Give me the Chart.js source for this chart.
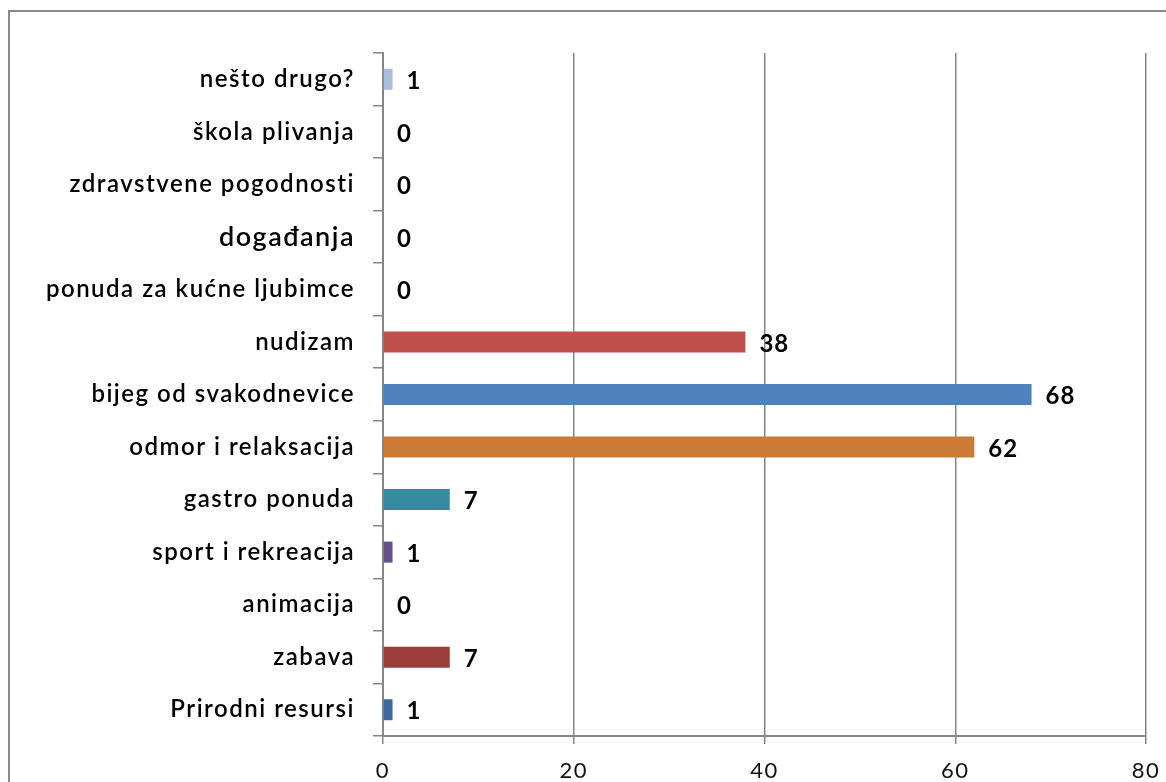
<!DOCTYPE html>
<html>
<head>
<meta charset="utf-8">
<script src="https://cdn.jsdelivr.net/npm/chart.js@4/dist/chart.umd.min.js"></script>
<style>
  html, body { margin: 0; padding: 0; background: #fff; }
  #wrap { position: relative; width: 1166px; height: 782px; }
</style>
</head>
<body>
<div id="wrap"><canvas id="c" width="1166" height="782"></canvas></div>
<script>
const categories = [
  "nešto drugo?",
  "škola plivanja",
  "zdravstvene pogodnosti",
  "događanja",
  "ponuda za kućne ljubimce",
  "nudizam",
  "bijeg od svakodnevice",
  "odmor i relaksacija",
  "gastro ponuda",
  "sport i rekreacija",
  "animacija",
  "zabava",
  "Prirodni resursi"
];
const values = [1, 0, 0, 0, 0, 38, 68, 62, 7, 1, 0, 7, 1];
const barColors = [
  "#aabcdc", "#4f81bd", "#4f81bd", "#4f81bd", "#4f81bd",
  "#c0504d", "#4f81bd", "#cc7a37", "#378b9f", "#66508a",
  "#4f81bd", "#9b3d3a", "#3c6aa0"
];
const xTicks = [0, 20, 40, 60, 80];

const frame = {
  id: 'frame',
  beforeDraw(chart) {
    const ctx = chart.ctx;
    ctx.save();
    ctx.fillStyle = '#fff';
    ctx.fillRect(0, 0, chart.width, chart.height);
    ctx.strokeStyle = '#8a8a8a';
    ctx.lineWidth = 2;
    ctx.strokeRect(9, 11, chart.width + 20, chart.height + 20);
    ctx.restore();
    ctx.letterSpacing = '1.5px';
  },
  afterDraw(chart) {
    chart.ctx.letterSpacing = '0px';
  }
};

const valueLabels = {
  id: 'valueLabels',
  afterDatasetsDraw(chart) {
    const ctx = chart.ctx;
    const meta = chart.getDatasetMeta(0);
    ctx.save();
    ctx.letterSpacing = '1px';
    ctx.font = 'bold 24px Lato, "Open Sans", sans-serif';
    ctx.fillStyle = '#000';
    ctx.textAlign = 'left';
    ctx.textBaseline = 'middle';
    meta.data.forEach((bar, i) => {
      ctx.fillText(String(values[i]), bar.x + 14, bar.y + 2);
    });
    ctx.restore();
  }
};

new Chart(document.getElementById('c'), {
  type: 'bar',
  data: {
    labels: categories,
    datasets: [{
      data: values,
      backgroundColor: barColors,
      borderWidth: 0,
      categoryPercentage: 1,
      barPercentage: 0.4
    }]
  },
  options: {
    indexAxis: 'y',
    responsive: false,
    animation: false,
    devicePixelRatio: 1,
    layout: { padding: { top: 53, right: 20, bottom: 0, left: 0 } },
    plugins: { legend: { display: false }, tooltip: { enabled: false } },
    scales: {
      x: {
        min: 0, max: 80,
        afterBuildTicks(scale) { scale.ticks = xTicks.map(v => ({ value: v })); },
        afterFit(scale) { scale.height = 46; scale.paddingRight = 0; scale.paddingLeft = 0; },
        grid: { color: '#868686', lineWidth: 1.5, tickLength: 8, drawOnChartArea: true },
        border: { color: '#868686', width: 2 },
        ticks: {
          padding: 14,
          color: '#111',
          font: { family: 'Lato, "Open Sans", sans-serif', size: 22 }
        }
      },
      y: {
        afterFit(scale) { scale.width = 383; },
        grid: { offset: true, drawOnChartArea: false, color: '#868686', tickLength: 10, lineWidth: 1.5 },
        border: { color: '#868686', width: 2 },
        ticks: {
          padding: 18,
          color: '#000',
          autoSkip: false,
          font: (ctx) => ({
            family: 'Lato, "Open Sans", sans-serif',
            weight: '600',
            size: ctx.index === 3 ? 27 : 24
          })
        }
      }
    }
  },
  plugins: [frame, valueLabels]
});
</script>
</body>
</html>
